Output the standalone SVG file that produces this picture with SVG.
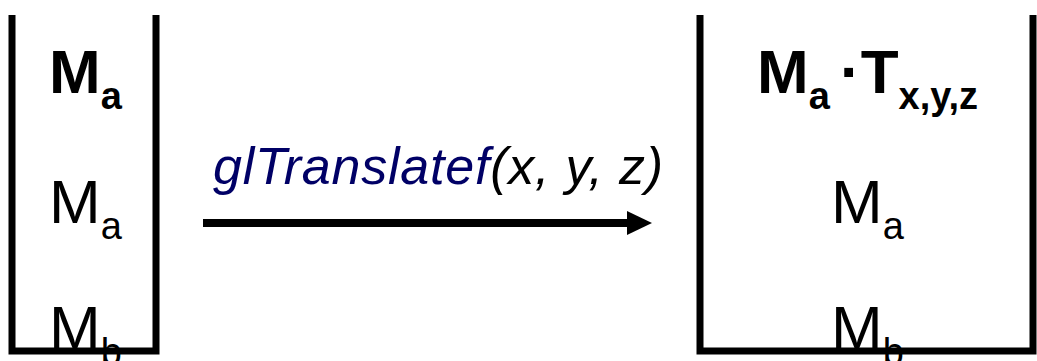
<svg xmlns="http://www.w3.org/2000/svg" width="1037" height="361" viewBox="0 0 1037 361">
<style>
.t{font-family:"Liberation Sans",Arial,sans-serif;fill:#000}
.b{font-weight:bold}
.big{font-size:62px}
.sub{font-size:38px}
.box{fill:none;stroke:#000;stroke-width:7}
.lbl{font-family:"Liberation Sans",Arial,sans-serif;font-style:italic;font-size:52px}
</style>
<g id="stack-before">
<text class="t b big" x="49" y="93">M<tspan class="sub" dy="16">a</tspan></text>
<text class="t big" x="49" y="223">M<tspan class="sub" dy="16">a</tspan></text>
<text class="t big" x="49" y="349">M<tspan class="sub" dy="16">b</tspan></text>
<path class="box" d="M12,15 V351 H156 V15"/>
</g>
<g id="stack-after">
<text class="t b big" x="757" y="93">M<tspan class="sub" dy="16">a</tspan><tspan x="840" dy="-16">·T</tspan><tspan class="sub" dy="16">x,y,z</tspan></text>
<text class="t big" x="831" y="223">M<tspan class="sub" dy="16">a</tspan></text>
<text class="t big" x="831" y="349">M<tspan class="sub" dy="16">b</tspan></text>
<path class="box" d="M700,15 V351 H1033 V15"/>
</g>
<g id="connectors">
<text class="lbl" x="213" y="184" textLength="450" lengthAdjust="spacing"><tspan fill="#000066">glTranslatef</tspan><tspan fill="#000">(x, y, z)</tspan></text>
<line x1="203" y1="223" x2="630" y2="223" stroke="#000" stroke-width="8"/>
<polygon points="627,211 652,223 627,235" fill="#000"/>
</g>
</svg>
